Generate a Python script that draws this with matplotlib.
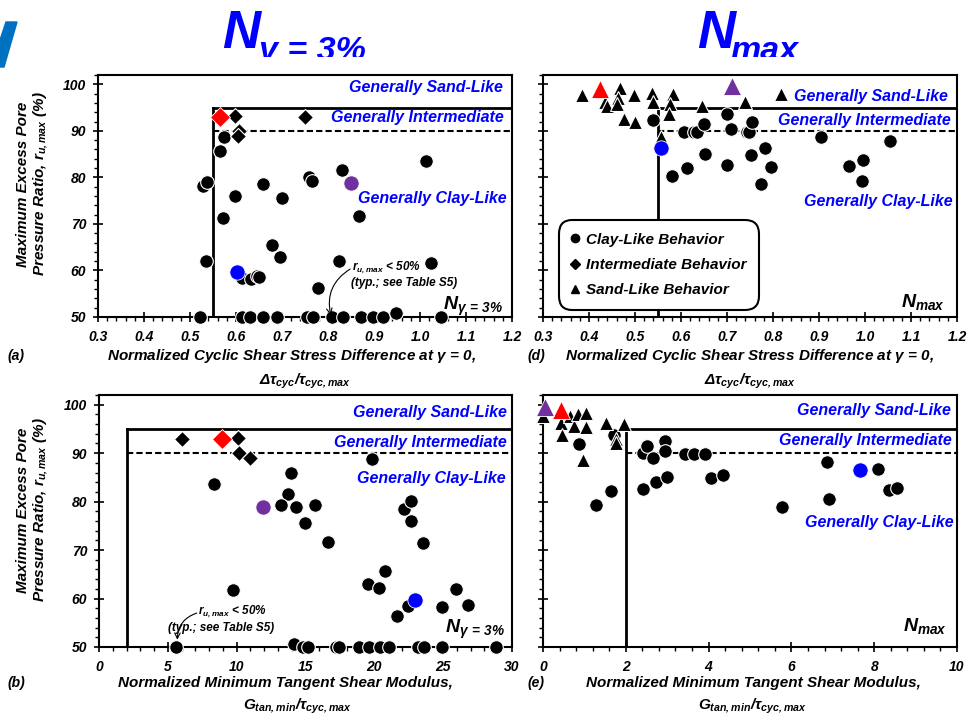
"""Excess pore pressure ratio vs. cyclic shear stress difference and tangent modulus."""
import matplotlib
matplotlib.use("Agg")
import matplotlib.pyplot as plt  # noqa: E402
from matplotlib.lines import Line2D  # noqa: E402
from matplotlib.patches import Polygon  # noqa: E402
from matplotlib.ticker import FormatStrFormatter, MultipleLocator  # noqa: E402
from matplotlib.transforms import Bbox, TransformedBbox  # noqa: E402

plt.rcParams.update({
    "font.family": "Liberation Sans", "font.weight": "bold", "font.style": "italic",
    "mathtext.fontset": "custom", "mathtext.rm": "Liberation Sans:bold:italic",
    "mathtext.it": "Liberation Sans:bold:italic", "mathtext.bf": "Liberation Sans:bold:italic",
    "mathtext.sf": "Liberation Sans:bold:italic",
})

BLUE, RED, PURPLE = "#0000FF", "#FF0000", "#7030A0"

# ---- panel (a): N_gamma=3%, delta tau_cyc / tau_cyc,max
a_clay_x = [0.575, 0.566, 0.529, 0.536, 0.598, 0.571, 0.534, 0.612, 0.632, 0.646, 0.651, 0.659,
            0.700, 0.678, 0.696, 0.759, 0.766, 0.831, 0.867, 0.823, 0.779, 1.012, 1.023,
            0.522, 0.612, 0.630, 0.659, 0.690, 0.755, 0.768, 0.809, 0.833, 0.872, 0.898, 0.920,
            0.948, 1.045]
a_clay_y = [88.6, 85.7, 78.2, 79.0, 75.9, 71.3, 62.0, 58.3, 58.1, 58.8, 58.5, 78.6,
            75.5, 65.5, 62.8, 80.0, 79.2, 81.5, 71.6, 62.1, 56.3, 83.5, 61.6,
            50, 50, 50, 50, 50, 50, 50, 50, 50, 50, 50, 50, 50.8, 50]
a_inter_x = [0.598, 0.750, 0.607, 0.605]
a_inter_y = [93.2, 93.0, 90.0, 89.0]
a_sand_x, a_sand_y = [], []
a_hl = [(0.565, 93.0, "D", RED), (0.603, 59.6, "o", BLUE), (0.851, 78.8, "o", PURPLE)]

# ---- panel (d): N_max, delta tau_cyc / tau_cyc,max
d_clay_x = [0.540, 0.607, 0.628, 0.634, 0.649, 0.701, 0.708, 0.743, 0.748, 0.755, 0.652, 0.581,
            0.612, 0.701, 0.752, 0.783, 0.795, 0.774, 0.904, 0.965, 0.996, 0.994, 1.054]
d_clay_y = [92.3, 89.8, 89.7, 89.8, 91.4, 93.7, 90.4, 89.8, 89.8, 91.8, 85.0, 80.3,
            82.0, 82.7, 84.8, 86.4, 82.3, 78.6, 88.7, 82.5, 83.8, 79.2, 87.9]
d_inter_x, d_inter_y = [], []
d_sand_x = [0.385, 0.434, 0.439, 0.467, 0.463, 0.461, 0.476, 0.499, 0.497, 0.537, 0.540, 0.583,
            0.576, 0.574, 0.646, 0.739, 0.817, 0.557]
d_sand_y = [97.7, 96.1, 95.4, 99.3, 97.1, 95.7, 92.5, 91.8, 97.7, 98.2, 96.1, 97.9,
            95.7, 93.7, 95.4, 96.1, 97.9, 88.6]
d_hl = [(0.557, 86.3, "o", BLUE), (0.424, 98.9, "^", RED), (0.710, 99.6, "^", PURPLE)]

# ---- panel (b): N_gamma=3%, G_tan,min / tau_cyc,max
b_clay_x = [8.34, 9.70, 13.92, 13.75, 13.22, 14.29, 14.96, 15.72, 16.66, 19.82, 19.53, 20.37,
            20.81, 21.63, 22.12, 22.65, 22.65, 23.50, 22.48, 24.91, 25.95, 26.80,
            5.58, 14.19, 14.84, 15.21, 17.20, 17.46, 18.92, 19.64, 20.42, 21.08, 23.14, 23.58,
            24.91, 28.86]
b_clay_y = [83.7, 61.8, 86.0, 81.5, 79.3, 78.8, 75.6, 79.2, 71.6, 88.7, 62.9, 62.2,
            65.6, 56.4, 78.4, 80.1, 76.1, 71.4, 58.4, 58.2, 61.9, 58.6,
            50, 50.7, 50, 50, 50, 50, 50, 50, 50, 50, 50, 50, 50, 50]
b_inter_x = [6.04, 10.11, 10.19, 10.96]
b_inter_y = [93.0, 93.2, 90.1, 88.9]
b_sand_x, b_sand_y = [], []
b_hl = [(8.97, 93.0, "D", RED), (11.93, 78.9, "o", PURPLE), (22.97, 59.8, "o", BLUE)]

# ---- panel (e): N_max, G_tan,min / tau_cyc,max
e_clay_x = [0.87, 1.71, 1.27, 1.65, 2.42, 2.52, 2.65, 2.94, 2.94, 2.42, 2.73, 3.00, 3.44, 3.65,
            3.91, 4.07, 4.35, 5.77, 6.87, 6.91, 8.10, 8.36, 8.55]
e_clay_y = [91.8, 93.7, 79.4, 82.2, 90.1, 91.4, 88.9, 92.5, 90.5, 82.6, 84.0, 85.1, 89.8, 89.8,
            89.8, 84.9, 85.4, 78.9, 88.2, 80.6, 86.7, 82.5, 82.8]
e_inter_x, e_inter_y = [], []
e_sand_x = [0.0, 0.44, 0.46, 0.65, 0.74, 0.85, 1.05, 1.03, 0.97, 1.52, 1.76, 1.76, 1.95]
e_sand_y = [97.7, 96.2, 93.7, 97.7, 95.7, 98.1, 98.3, 95.4, 88.5, 96.3, 93.0, 92.1, 96.1]
e_hl = [(7.66, 86.5, "o", BLUE), (0.43, 99.0, "^", RED), (0.04, 99.6, "^", PURPLE)]

# boundary lines: vertical threshold, sand-like (95%) and intermediate (90%) limits
R_SAND, R_INTER = 95, 90
a_xcut, d_xcut, b_xcut, e_xcut = 0.55, 0.55, 2.0, 2.0

fig = plt.figure(figsize=(9.7, 7.16), dpi=100)
W, H = 970, 716
MS = {"o": 9.8, "D": 7.8, "^": 10.5}
MS_HL = {"o": 11, "D": 10.5, "^": 12.5}


def add_ax(l, t, r, b):
    return fig.add_axes([l / W, 1 - b / H, (r - l) / W, (b - t) / H])


def panel(ax, xlim, xmaj, xmin, fmt, cx, cy, ix, iy, sx, sy, hl, xcut, ylabels):
    ax.set_xlim(*xlim); ax.set_ylim(50, 102)
    ax.xaxis.set_major_locator(MultipleLocator(xmaj)); ax.xaxis.set_minor_locator(MultipleLocator(xmin))
    ax.xaxis.set_major_formatter(FormatStrFormatter(fmt))
    ax.yaxis.set_major_locator(MultipleLocator(10)); ax.yaxis.set_minor_locator(MultipleLocator(2))
    ax.tick_params(which="major", direction="inout", length=7, width=1.2, labelsize=10, pad=5)
    ax.tick_params(which="minor", direction="out", length=3, width=1.0)
    ax.tick_params(axis="x", which="major", pad=6)
    if not ylabels:
        ax.tick_params(axis="y", labelleft=False)
    for s in ax.spines.values():
        s.set_linewidth(1.5)
    ax.plot([xcut, xcut], [50, R_SAND], color="black", lw=2, zorder=2)
    ax.plot([xcut, xlim[1]], [R_SAND, R_SAND], color="black", lw=2, zorder=2)
    ax.plot([xcut, xlim[1]], [R_INTER, R_INTER], color="black", lw=1.5, ls=(0, (3, 1.5)), zorder=2)
    kw = dict(ls="none", mfc="black", mec="white", mew=0.8, clip_on=False, zorder=3)
    ax.plot(cx, cy, "o", ms=MS["o"], **kw)
    ax.plot(ix, iy, "D", ms=MS["D"], **kw)
    ax.plot(sx, sy, "^", ms=MS["^"], **kw)
    for x, y, m, c in hl:
        ax.plot([x], [y], m, ms=MS_HL[m], mfc=c, mec="white", mew=0.6,
                ls="none", clip_on=False, zorder=4)


def region_text(ax, pos):
    for (x, y), s in zip(pos, ["Generally Sand-Like", "Generally Intermediate", "Generally Clay-Like"]):
        ax.text(x, y, s, transform=ax.transAxes, ha="right", va="center", color=BLUE, fontsize=11.5)


ax_a = add_ax(98, 75, 512, 317)
ax_d = add_ax(543, 75, 957, 317)
ax_b = add_ax(99, 395, 512, 647)
ax_e = add_ax(543, 395, 957, 647)

panel(ax_a, (0.3, 1.2), 0.1, 0.02, "%.1f", a_clay_x, a_clay_y, a_inter_x, a_inter_y,
      a_sand_x, a_sand_y, a_hl, a_xcut, True)
panel(ax_d, (0.3, 1.2), 0.1, 0.02, "%.1f", d_clay_x, d_clay_y, d_inter_x, d_inter_y,
      d_sand_x, d_sand_y, d_hl, d_xcut, False)
panel(ax_b, (0, 30), 5, 1, "%d", b_clay_x, b_clay_y, b_inter_x, b_inter_y,
      b_sand_x, b_sand_y, b_hl, b_xcut, True)
panel(ax_e, (0, 10), 2, 0.4, "%d", e_clay_x, e_clay_y, e_inter_x, e_inter_y,
      e_sand_x, e_sand_y, e_hl, e_xcut, False)

region_text(ax_a, [(0.979, 0.949), (0.979, 0.824), (0.986, 0.488)])
region_text(ax_d, [(0.978, 0.910), (0.985, 0.814), (0.990, 0.476)])
region_text(ax_b, [(0.987, 0.930), (0.987, 0.811), (0.985, 0.669)])
region_text(ax_e, [(0.985, 0.938), (0.987, 0.819), (0.993, 0.493)])

for ax, lab, (x, y) in [(ax_a, r"$N_{\gamma\,=\,3\%}$", (0.979, 0.03)), (ax_d, r"$N_{max}$", (0.971, 0.04)),
                        (ax_b, r"$N_{\gamma\,=\,3\%}$", (0.983, 0.056)), (ax_e, r"$N_{max}$", (0.975, 0.065))]:
    ax.text(x, y, lab, transform=ax.transAxes, ha="right", va="baseline", fontsize=14)

# r_u,max < 50% notes
ax_a.text(0.852, 60.5, r"$r_{u,max}$ < 50%", fontsize=8.5, va="center")
ax_a.text(0.850, 57.4, "(typ.; see Table S5)", fontsize=8.5, va="center")
ax_a.annotate("", xy=(0.806, 50.4), xytext=(0.848, 60.3),
              arrowprops=dict(arrowstyle="->", lw=0.8, connectionstyle="arc3,rad=0.35", shrinkA=0, shrinkB=0))
ax_b.text(7.21, 57.2, r"$r_{u,max}$ < 50%", fontsize=8.5, va="center")
ax_b.text(4.99, 54.0, "(typ.; see Table S5)", fontsize=8.5, va="center")
ax_b.annotate("", xy=(5.69, 51.5), xytext=(7.1, 57.0),
              arrowprops=dict(arrowstyle="->", lw=0.8, connectionstyle="arc3,rad=0.35", shrinkA=0, shrinkB=0))

# legend
handles = [Line2D([], [], ls="none", marker=m, color="black", ms=ms) for m, ms in [("o", 6), ("D", 5), ("^", 5.5)]]
leg = ax_d.legend(handles, ["Clay-Like Behavior", "Intermediate Behavior", "Sand-Like Behavior"],
                  loc="lower left", bbox_to_anchor=(0.045, 0.043), borderaxespad=0, fontsize=11,
                  handlelength=0.6, handletextpad=0.4, labelspacing=0.75, borderpad=0.6,
                  fancybox=True, framealpha=1, edgecolor="black")
leg.get_frame().set_linewidth(1.5)
leg.get_frame().set_boxstyle("round,pad=0.2,rounding_size=0.9")
leg.set_zorder(5)

# axis labels
ylab = "Maximum Excess Pore\nPressure Ratio, $r_{u,max}$ (%)"
fig.text(33 / W, 1 - 184 / H, ylab, rotation=90, ha="center", va="center", fontsize=11, linespacing=1.1)
fig.text(33 / W, 1 - 510 / H, ylab, rotation=90, ha="center", va="center", fontsize=11, linespacing=1.1)

for xc, yl, s in [(291, 356, r"Normalized Cyclic Shear Stress Difference at $\gamma$ = 0,"),
                  (749, 356, r"Normalized Cyclic Shear Stress Difference at $\gamma$ = 0,"),
                  (285, 683, "Normalized Minimum Tangent Shear Modulus,"),
                  (753, 683, "Normalized Minimum Tangent Shear Modulus,")]:
    fig.text(xc / W, 1 - yl / H, s, ha="center", va="center", fontsize=11)
for xc, yl, s in [(305, 381, r"$\Delta\tau_{cyc}/\tau_{cyc,max}$"), (750, 381, r"$\Delta\tau_{cyc}/\tau_{cyc,max}$"),
                  (297, 706, r"$G_{tan,min}/\tau_{cyc,max}$"), (752, 706, r"$G_{tan,min}/\tau_{cyc,max}$")]:
    fig.text(xc / W, 1 - yl / H, s, ha="center", va="center", fontsize=11)
for x, y, s in [(16, 356, "(a)"), (536, 356, "(d)"), (16, 683, "(b)"), (536, 683, "(e)")]:
    fig.text(x / W, 1 - y / H, s, ha="center", va="center", fontsize=10)

# clipped column titles
clip = TransformedBbox(Bbox.from_extents(0, 1 - 57 / H, 1, 1), fig.transFigure)
for x, y, s, fs in [(222, 48, "N", 38), (259, 60, "\u03b3 = 3%", 24.5), (697, 48, "N", 38), (730, 60, "max", 24.5)]:
    fig.text(x / W, 1 - y / H, s, ha="left", va="baseline", fontsize=fs, color=BLUE,
             clip_on=True, clip_box=clip)

fig.patches.append(Polygon([(6 / W, 1 - 22 / H), (17 / W, 1 - 22 / H), (4 / W, 1 - 67 / H), (0, 1 - 67 / H),
                            (0, 1 - 40 / H)], closed=True, transform=fig.transFigure, color="#0070C0"))

fig.savefig("out.png", dpi=100)
